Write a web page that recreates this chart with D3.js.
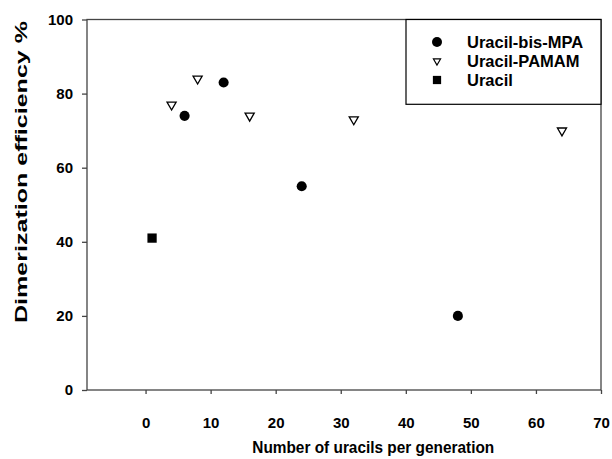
<!DOCTYPE html>
<html>
<head>
<meta charset="utf-8">
<script src="https://cdn.jsdelivr.net/npm/d3@7"></script>
<style>
  body { margin: 0; background: #fff; }
  svg text { font-family: "Liberation Sans", Arial, sans-serif; font-weight: bold; fill: #000; }
</style>
</head>
<body>
<div id="chart"></div>
<script>
// data
const bisMpaX = [6, 12, 24, 48];
const bisMpaY = [74, 83, 55, 20];
const pamamX = [4, 8, 16, 32, 64];
const pamamY = [77, 84, 74, 73, 70];
const uracilX = [1];
const uracilY = [41];
const xTicks = [0, 10, 20, 30, 40, 50, 60, 70];
const yTicks = [0, 20, 40, 60, 80, 100];
const seriesNames = ["Uracil-bis-MPA", "Uracil-PAMAM", "Uracil"];

const width = 612;
const height = 459;
const margin = { top: 19.5, right: 11, bottom: 69, left: 87 };
const axisColor = "#444";

const svg = d3
  .select("#chart")
  .append("svg")
  .attr("width", width)
  .attr("height", height);

const x = d3
  .scaleLinear()
  .domain([-9, 70])
  .range([margin.left, width - margin.right]);

const y = d3
  .scaleLinear()
  .domain([0, 100])
  .range([height - margin.bottom, margin.top]);

// Axes
const xAxis = svg
  .append("g")
  .attr("transform", `translate(0,${y(0)})`)
  .call(d3.axisBottom(x).tickValues(xTicks).tickSize(4).tickPadding(23));

const yAxis = svg
  .append("g")
  .attr("transform", `translate(${x(-9)},0)`)
  .call(d3.axisLeft(y).tickValues(yTicks).tickSize(5).tickPadding(9));

[xAxis, yAxis].forEach((g) => {
  g.select(".domain").remove();
  g.selectAll(".tick line").attr("stroke", axisColor).attr("stroke-width", 1.3);
  g.selectAll(".tick text").style("font-size", "15px");
});

// Frame
svg
  .append("rect")
  .attr("x", x(-9))
  .attr("y", y(100))
  .attr("width", x(70) - x(-9))
  .attr("height", y(0) - y(100))
  .attr("fill", "none")
  .attr("stroke", axisColor)
  .attr("stroke-width", 1.3);

// Symbols
const circleSym = (s) => d3.symbol().type(d3.symbolCircle).size(s)();
const triSym = (s) => d3.symbol().type(d3.symbolTriangle).size(s)();
const squareSym = (s) => d3.symbol().type(d3.symbolSquare).size(s)();

const pts = (xs, ys) => xs.map((v, i) => ({ x: v, y: ys[i] }));

svg
  .append("g")
  .selectAll("path")
  .data(pts(pamamX, pamamY))
  .enter()
  .append("path")
  .attr("d", triSym(36))
  .attr("transform", (d) => `translate(${x(d.x)},${y(d.y)}) rotate(180)`)
  .attr("fill", "#fff")
  .attr("stroke", "#000")
  .attr("stroke-width", 1.3);

svg
  .append("g")
  .selectAll("path")
  .data(pts(bisMpaX, bisMpaY))
  .enter()
  .append("path")
  .attr("d", circleSym(80))
  .attr("transform", (d) => `translate(${x(d.x)},${y(d.y)})`)
  .attr("fill", "#000");

svg
  .append("g")
  .selectAll("path")
  .data(pts(uracilX, uracilY))
  .enter()
  .append("path")
  .attr("d", squareSym(86))
  .attr("transform", (d) => `translate(${x(d.x)},${y(d.y)})`)
  .attr("fill", "#000");

// Legend
const legend = svg.append("g");
legend
  .append("rect")
  .attr("x", 406)
  .attr("y", margin.top)
  .attr("width", width - margin.right - 406)
  .attr("height", 104.3 - margin.top)
  .attr("fill", "#fff")
  .attr("stroke", "#000")
  .attr("stroke-width", 1.2);

const legendSyms = [
  { d: circleSym(78), fill: "#000", stroke: "none", rot: 0 },
  { d: triSym(22), fill: "#fff", stroke: "#000", rot: 180 },
  { d: squareSym(68), fill: "#000", stroke: "none", rot: 0 },
];

seriesNames.forEach((name, i) => {
  const ly = 42 + i * 19;
  const s = legendSyms[i];
  legend
    .append("path")
    .attr("d", s.d)
    .attr("transform", `translate(437,${ly}) rotate(${s.rot})`)
    .attr("fill", s.fill)
    .attr("stroke", s.stroke)
    .attr("stroke-width", 1.2);
  legend
    .append("text")
    .attr("x", 467)
    .attr("y", ly)
    .attr("dy", "0.35em")
    .style("font-size", "16.5px")
    .text(name);
});

// Axis titles
svg
  .append("text")
  .attr("x", (x(0) + x(70)) / 2)
  .attr("y", 453)
  .attr("text-anchor", "middle")
  .attr("textLength", 242)
  .attr("lengthAdjust", "spacingAndGlyphs")
  .style("font-size", "17px")
  .text("Number of uracils per generation");

svg
  .append("text")
  .attr("transform", "translate(27,172) rotate(-90)")
  .attr("text-anchor", "middle")
  .attr("textLength", 302)
  .attr("lengthAdjust", "spacingAndGlyphs")
  .style("font-size", "17px")
  .text("Dimerization efficiency %");
</script>
</body>
</html>
